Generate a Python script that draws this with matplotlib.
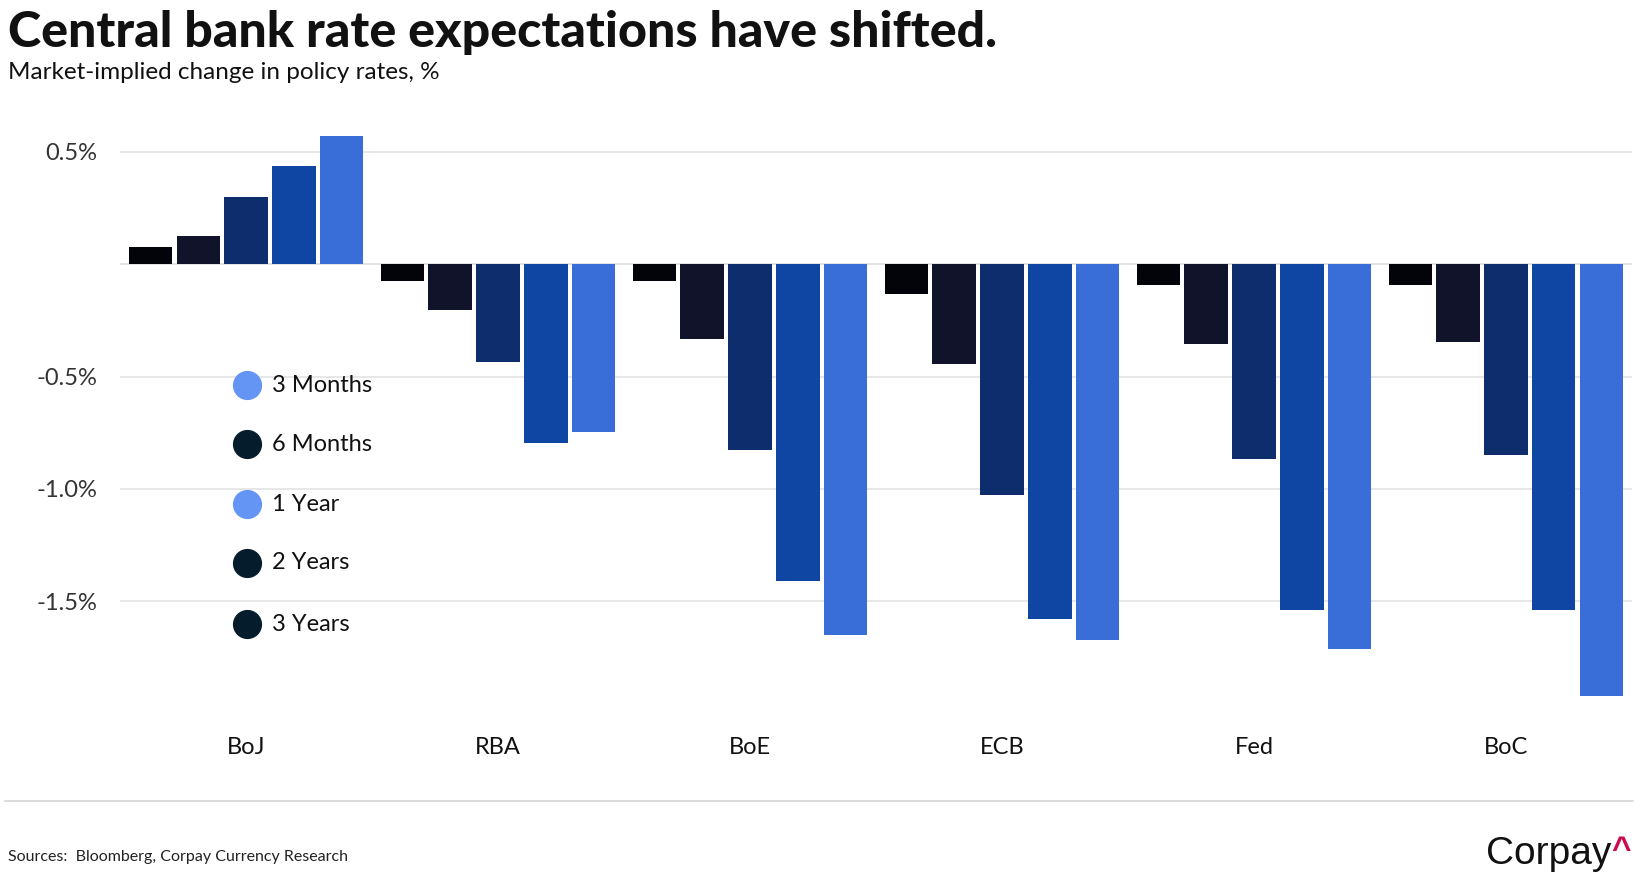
import matplotlib
matplotlib.use('Agg')
import matplotlib.pyplot as plt
import numpy as np

plt.rcParams['font.family'] = ['Lato', 'DejaVu Sans']

banks = ['BoJ', 'RBA', 'BoE', 'ECB', 'Fed', 'BoC']
horizons = ['3 Months', '6 Months', '1 Year', '2 Years', '3 Years']

# market-implied change, %
m3 = [0.077, -0.073, -0.073, -0.131, -0.092, -0.092]
m6 = [0.126, -0.203, -0.332, -0.444, -0.355, -0.346]
y1 = [0.300, -0.435, -0.826, -1.025, -0.866, -0.848]
y2 = [0.438, -0.795, -1.410, -1.578, -1.538, -1.538]
y3 = [0.572, -0.746, -1.650, -1.672, -1.712, -1.921]

bar_colors = ['#03030a', '#10132a', '#0e2d6c', '#0f46a3', '#396dd7']
legend_colors = ['#6495f5', '#051c2c', '#6495f5', '#051c2c', '#051c2c']
yticks = [0.5, 0, -0.5, -1.0, -1.5]
ytick_labels = ['0.5%', '', '-0.5%', '-1.0%', '-1.5%']

fig = plt.figure(figsize=(16.38, 8.8), dpi=100)
ax = fig.add_axes([0.0733, 0.189, 0.923, 0.6747])

x = np.arange(len(banks))
pitch = 0.19
width = 0.172
series = [m3, m6, y1, y2, y3]
for i, vals in enumerate(series):
    ax.bar(x + (i - 2) * pitch, vals, width, color=bar_colors[i], zorder=3)

ax.set_xlim(-0.5, 5.5)
ax.set_ylim(-2.0, 0.642)
ax.set_yticks(yticks)
ax.set_yticklabels(ytick_labels)
ax.set_xticks(x)
ax.set_xticklabels(banks)
ax.grid(axis='y', color='#e3e3e3', linewidth=1.2, zorder=0)
ax.axhline(0, color='#e3e3e3', linewidth=1.2, zorder=1)
for s in ax.spines.values():
    s.set_visible(False)
ax.tick_params(axis='both', length=0, labelsize=17)
ax.tick_params(axis='y', pad=16.5, labelcolor='#333333')
ax.tick_params(axis='x', pad=16.5, labelcolor='#111111')

# legend drawn by hand, as in the original
leg_y = [0.553, 0.454, 0.353, 0.254, 0.151]
for lab, col, yy in zip(horizons, legend_colors, leg_y):
    ax.plot([0.084], [yy], 'o', ms=20, color=col, transform=ax.transAxes,
            clip_on=False, zorder=5)
    ax.text(0.1005, yy, lab, transform=ax.transAxes, fontsize=17,
            va='center', ha='left', color='#111111', zorder=5)

fig.text(0.0049, 0.9466, 'Central bank rate expectations have shifted.',
         fontsize=36.1, fontweight='black', color='#111111', va='baseline')
fig.text(0.0049, 0.9097, 'Market-implied change in policy rates, %',
         fontsize=17.5, color='#111111', va='baseline')

fig.add_artist(plt.Line2D([0.003, 0.997], [0.0898, 0.0898],
                          color='#d6d6d6', linewidth=1.2))
fig.text(0.0049, 0.026, 'Sources:  Bloomberg, Corpay Currency Research',
         fontsize=11.5, color='#222222', va='center')
fig.text(0.984, 0.018, 'Corpay', fontsize=28, ha='right', va='baseline',
         family='Liberation Sans', color='#111111')
fig.text(0.9894, 0.034, '^', fontsize=24, ha='center', va='center',
         family='Liberation Sans', fontweight='bold', color='#cc0a4e')

fig.savefig('out.png', dpi=100)
